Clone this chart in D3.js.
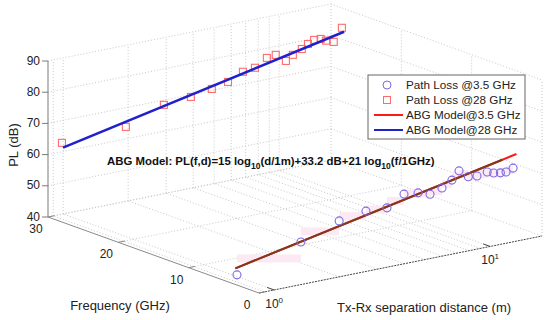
<!DOCTYPE html>
<html>
<head>
<meta charset="utf-8">
<script src="https://cdn.jsdelivr.net/npm/d3@7"></script>
<style>
  body { margin: 0; background: #fff; }
  svg { font-family: "Liberation Sans", Arial, sans-serif; }
</style>
</head>
<body>
<svg width="550" height="320"></svg>
<script>
// measured data (distance in m, path loss in dB)
const d28 = [0.85, 1.68, 2.52, 3.36, 4.2, 4.99, 5.85, 6.65, 7.55, 8.3, 9.25, 9.96, 10.96, 11.7, 12.5, 13.4, 14.2, 15.4, 16.8];
const pl28 = [65.4, 66.4, 71.0, 71.8, 73.0, 74.2, 76.5, 77.0, 79.4, 79.8, 77.2, 78.7, 80.0, 81.2, 82.1, 82.0, 81.1, 80.2, 84.2];
const d35 = [0.875, 1.73, 2.6, 3.46, 4.33, 5.19, 6.03, 6.85, 7.78, 8.65, 9.33, 10.3, 11.3, 12.6, 13.5, 14.5, 15.4, 16.6];
const pl35 = [42.8, 49.2, 53.5, 54.9, 54.6, 57.9, 57.4, 56.2, 57.4, 59.3, 61.8, 59.3, 59.0, 59.6, 58.9, 58.5, 58.4, 59.2];

// ABG model line ends
const modelD = [0.86, 17.2];
const model35 = [45.0, 63.5];
const model28 = [63.8, 82.8];
const freqs = [3.5, 28];

const zTicks = [40, 50, 60, 70, 80, 90];
const fTicks = [0, 10, 20, 30];
const dMajor = [1, 10];
const dGrid = [0.9, 1, 2, 3, 4, 5, 6, 7, 8, 9, 10];

const dLim = [Math.pow(10, -0.07), Math.pow(10, 1.24)];
const fLim = [0, 30];
const zLim = [40, 90];

const legendItems = [
  { label: "Path Loss @3.5 GHz", type: "circle", color: "#7a6ae6" },
  { label: "Path Loss @28 GHz", type: "square", color: "#ff6b6b" },
  { label: "ABG Model@3.5 GHz", type: "line", color: "#ff1a1a" },
  { label: "ABG Model@28 GHz", type: "line", color: "#2020cc" }
];

const svg = d3.select("svg");

// 3d view: screen vectors of the box edges
const origin = [259, 293];
const dVec = [283, -57];
const fVec = [-211, -76];
const zVec = -156;

const dS = d3.scaleLog().domain(dLim).range([0, 1]);
const fS = d3.scaleLinear().domain(fLim).range([0, 1]);
const zS = d3.scaleLinear().domain(zLim).range([0, 1]);

function P(d, f, z) {
  const u = dS(d), v = fS(f), w = zS(z);
  return [origin[0] + dVec[0] * u + fVec[0] * v,
          origin[1] + dVec[1] * u + fVec[1] * v + zVec * w];
}

const line = d3.line();
const grid = svg.append("g")
  .attr("fill", "none")
  .attr("stroke", "#c8c8c8")
  .attr("stroke-width", 1)
  .attr("stroke-dasharray", "1,2");

function seg(a, b) {
  grid.append("path").attr("d", line([a, b]));
}

// back wall f = 30
zTicks.forEach(z => seg(P(dLim[0], 30, z), P(dLim[1], 30, z)));
dGrid.forEach(d => seg(P(d, 30, 40), P(d, 30, 90)));
// side wall d = max
zTicks.forEach(z => seg(P(dLim[1], 30, z), P(dLim[1], 0, z)));
fTicks.forEach(f => seg(P(dLim[1], f, 40), P(dLim[1], f, 90)));
// floor z = 40
dGrid.forEach(d => seg(P(d, 0, 40), P(d, 30, 40)));
fTicks.slice(1).forEach(f => seg(P(dLim[0], f, 40), P(dLim[1], f, 40)));

// axes
const axes = svg.append("g").attr("fill", "none");
axes.append("path").attr("d", line([P(dLim[0], 30, 40), P(dLim[0], 30, 90)]))
  .attr("stroke", "#7a7a7a");
axes.append("path").attr("d", line([P(dLim[0], 30, 40), P(dLim[0], 0, 40)]))
  .attr("stroke", "#8a8a8a");
axes.append("path").attr("d", line([P(dLim[0], 0, 40), P(dLim[1], 0, 40)]))
  .attr("stroke", "#444").attr("stroke-dasharray", "2,1");

const tickG = svg.append("g").attr("font-size", 12).attr("fill", "#222");
zTicks.forEach(z => {
  const p = P(dLim[0], 30, z);
  axes.append("path").attr("d", line([[p[0] - 6, p[1]], p])).attr("stroke", "#7a7a7a");
  tickG.append("text").attr("x", p[0] - 8).attr("y", p[1] + 3.5)
    .attr("text-anchor", "end").text(z);
});
fTicks.forEach(f => {
  const p = P(dLim[0], f, 40);
  const q = P(Math.pow(10, -0.04), f, 40);
  axes.append("path").attr("d", line([p, q])).attr("stroke", "#8a8a8a");
  tickG.append("text").attr("x", p[0] - 12).attr("y", p[1] + 16)
    .attr("text-anchor", "middle").text(f);
});
dMajor.forEach(d => {
  const p = P(d, 0, 40);
  axes.append("path").attr("d", line([p, P(d, 1, 40)])).attr("stroke", "#444");
  const t = tickG.append("text").attr("x", p[0]).attr("y", p[1] + 18)
    .attr("text-anchor", "middle");
  t.append("tspan").text("10");
  t.append("tspan").attr("dy", -5).attr("font-size", 8).text(Math.log10(d));
});

// pink shading along the 3.5 GHz data
const shade = svg.append("g").attr("fill", "#fce9f3");
for (let i = 0; i < d35.length - 1; i++) {
  const a = P(d35[i], 3.5, pl35[i]);
  const b = P(d35[i + 1], 3.5, pl35[i + 1]);
  const ym = (a[1] + b[1]) / 2;
  shade.append("rect").attr("x", a[0]).attr("y", ym - 4)
    .attr("width", b[0] - a[0]).attr("height", 8);
}

// model lines
const model28Pts = modelD.map((d, i) => P(d, freqs[1], model28[i]));
const model35Pts = modelD.map((d, i) => P(d, freqs[0], model35[i]));
svg.append("path").attr("d", line(model35Pts))
  .attr("stroke", "#ff1a1a").attr("stroke-width", 2).attr("fill", "none");
const bp = d3.interpolateArray(model35Pts[0], model35Pts[1])(0.95);
svg.append("path").attr("d", line([model35Pts[0], bp]))
  .attr("stroke", "#7e3a1e").attr("stroke-width", 2).attr("fill", "none");

// 3.5 GHz markers
svg.append("g").selectAll("circle").data(d35).join("circle")
  .attr("cx", (d, i) => P(d, freqs[0], pl35[i])[0])
  .attr("cy", (d, i) => P(d, freqs[0], pl35[i])[1])
  .attr("r", 4).attr("fill", "none").attr("stroke", "#7a6ae6").attr("stroke-width", 1.1);

// 28 GHz markers
svg.append("g").selectAll("rect").data(d28).join("rect")
  .attr("x", (d, i) => P(d, freqs[1], pl28[i])[0] - 3.5)
  .attr("y", (d, i) => P(d, freqs[1], pl28[i])[1] - 3.5)
  .attr("width", 7).attr("height", 7)
  .attr("fill", "none").attr("stroke", "#ff6b6b").attr("stroke-width", 1.1);

svg.append("path").attr("d", line(model28Pts))
  .attr("stroke", "#2020cc").attr("stroke-width", 2.5).attr("fill", "none");

// annotation
const ann = svg.append("text").attr("x", 107).attr("y", 165)
  .attr("font-size", 11.4).attr("font-weight", "bold").attr("fill", "#111");
ann.append("tspan").text("ABG Model: PL(f,d)=15 log");
ann.append("tspan").attr("dy", 4).attr("font-size", 8.5).text("10");
ann.append("tspan").attr("dy", -4).text("(d/1m)+33.2 dB+21 log");
ann.append("tspan").attr("dy", 4).attr("font-size", 8.5).text("10");
ann.append("tspan").attr("dy", -4).text("(f/1GHz)");

// axis labels
const lab = svg.append("g").attr("font-size", 13).attr("fill", "#222");
lab.append("text").attr("transform", "translate(18,145) rotate(-90)")
  .attr("text-anchor", "middle").text("PL (dB)");
lab.append("text").attr("x", 120).attr("y", 310)
  .attr("text-anchor", "middle").text("Frequency (GHz)");
lab.append("text").attr("x", 424).attr("y", 312)
  .attr("text-anchor", "middle").text("Tx-Rx separation distance (m)");

// legend
const lg = svg.append("g").attr("transform", "translate(368,75)");
lg.append("rect").attr("width", 157).attr("height", 64)
  .attr("fill", "#fff").attr("stroke", "#666");
legendItems.forEach((it, i) => {
  const y = 10 + i * 15;
  if (it.type === "circle") {
    lg.append("circle").attr("cx", 19).attr("cy", y).attr("r", 4)
      .attr("fill", "none").attr("stroke", it.color);
  } else if (it.type === "square") {
    lg.append("rect").attr("x", 15.5).attr("y", y - 3.5).attr("width", 7).attr("height", 7)
      .attr("fill", "none").attr("stroke", it.color);
  } else {
    lg.append("line").attr("x1", 6).attr("x2", 35).attr("y1", y).attr("y2", y)
      .attr("stroke", it.color).attr("stroke-width", 2);
  }
  lg.append("text").attr("x", 38).attr("y", y + 4).attr("font-size", 11.7)
    .attr("fill", "#222").text(it.label);
});
</script>
</body>
</html>
